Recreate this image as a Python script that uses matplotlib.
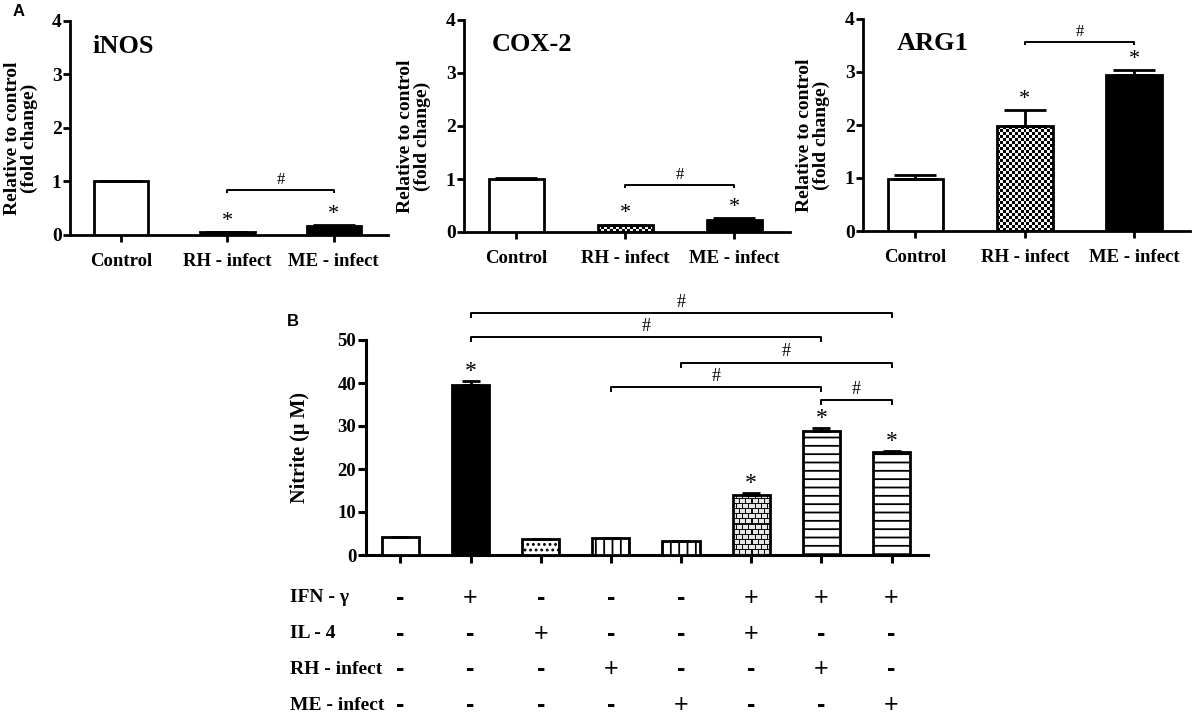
import numpy as np
import matplotlib
matplotlib.use("Agg")
import matplotlib.pyplot as plt
from matplotlib.transforms import blended_transform_factory

plt.rcParams['font.family'] = ['Liberation Serif', 'DejaVu Serif']
plt.rcParams['font.weight'] = 'bold'
plt.rcParams['hatch.linewidth'] = 1.3

# ---------------- data ----------------
cats_a = ["Control", "RH - infect", "ME - infect"]
genes = ["iNOS", "COX-2", "ARG1"]
inos_vals = [1.0, 0.06, 0.17]
inos_errs = [0.0, 0.0, 0.02]
cox2_vals = [1.0, 0.13, 0.23]
cox2_errs = [0.01, 0.01, 0.03]
arg1_vals = [0.99, 1.98, 2.94]
arg1_errs = [0.07, 0.31, 0.10]
a_yticks = [0, 1, 2, 3, 4]

nitrite_vals = [4.2, 39.5, 3.7, 4.0, 3.3, 14.0, 28.9, 24.0]
nitrite_errs = [0.0, 1.0, 0.0, 0.0, 0.0, 0.4, 0.6, 0.3]
b_yticks = [0, 10, 20, 30, 40, 50]
star_b = [False, True, False, False, False, True, True, True]
brackets_b = [(1, 7, 56.2), (1, 6, 50.7), (4, 7, 44.7), (3, 6, 39.0), (6, 7, 36.0)]

row_labels = ["IFN - γ", "IL - 4", "RH - infect", "ME - infect"]
ifn = ["-", "+", "-", "-", "-", "+", "+", "+"]
il4 = ["-", "-", "+", "-", "-", "+", "-", "-"]
rh = ["-", "-", "-", "+", "-", "-", "+", "-"]
me = ["-", "-", "-", "-", "+", "-", "-", "+"]

fig = plt.figure(figsize=(11.96, 7.2), dpi=100)
W, H = 1196, 720


def axes_px(l, r, t, b):
    return fig.add_axes([l / W, 1 - b / H, (r - l) / W, (b - t) / H])


def style_axes(ax, lw=2):
    for s in ['top', 'right']:
        ax.spines[s].set_visible(False)
    for s in ['left', 'bottom']:
        ax.spines[s].set_linewidth(lw)
    ax.tick_params(width=lw, length=5, direction='out')


def pattern_fill(ax, bar, kind, cell=3):
    # fill bar with a raster pattern clipped to the bar rectangle
    x0, y0 = bar.get_x(), bar.get_y()
    w, h = bar.get_width(), bar.get_height()
    p0 = ax.transData.transform((x0, y0))
    p1 = ax.transData.transform((x0 + w, y0 + h))
    wpx, hpx = abs(p1[0] - p0[0]), abs(p1[1] - p0[1])
    if kind == 'checker':
        nx = max(int(round(wpx / cell)), 1)
        ny = max(int(round(hpx / cell)), 1)
        yy, xx = np.mgrid[0:ny, 0:nx]
        img = ((xx + yy) % 2).astype(float) * 0.95
    else:  # brick
        nxp, nyp = int(round(wpx)), int(round(hpx))
        img = np.ones((nyp, nxp)) * 0.9
        yy, xx = np.mgrid[0:nyp, 0:nxp]
        img[(yy % 5) == 0] = 0.05
        row = yy // 5
        vert = ((xx + (row % 2) * 3) % 6) == 0
        img[vert] = 0.05
    im = ax.imshow(img, extent=(x0, x0 + w, y0, y0 + h), cmap='gray', vmin=0, vmax=1,
                   aspect='auto', interpolation='nearest', origin='lower', zorder=2)
    im.set_clip_path(bar)


def bracket(ax, x1, x2, y, drop, text, fs, lw=1.4):
    ax.plot([x1, x1, x2, x2], [y - drop, y, y, y - drop], color='black', lw=lw,
            clip_on=False, solid_capstyle='butt')
    ax.text((x1 + x2) / 2, y + drop * 0.5, text, ha='center', va='bottom', fontsize=fs,
            fontweight='normal')


# ---------------- Panel A ----------------
a_boxes = [(70, 388, 21, 235), (464, 790, 20, 232), (863, 1190, 19, 231)]
a_vals = [inos_vals, cox2_vals, arg1_vals]
a_errs = [inos_errs, cox2_errs, arg1_errs]
a_rh_style = ['black', 'checker', 'checker']
a_bracket_y = [0.84, 0.89, 3.57]
a_title_dx = [22, 28, 34]

for i, (box, vals, errs, g) in enumerate(zip(a_boxes, a_vals, a_errs, genes)):
    ax = axes_px(*box)
    x = np.arange(len(cats_a))
    colors = ['white', 'black' if a_rh_style[i] == 'black' else 'white', 'black']
    bars = ax.bar(x, vals, width=0.51, color=colors, edgecolor='black', linewidth=2, zorder=3)
    ax.set_xlim(-0.48, 2.51)
    ax.set_ylim(0, 4)
    ax.set_yticks(a_yticks)
    ax.set_xticks(x)
    ax.set_xticklabels(cats_a, fontsize=13.5, fontweight='bold')
    ax.tick_params(axis='x', pad=8)
    ax.tick_params(axis='y', pad=1, labelsize=14)
    style_axes(ax)
    if a_rh_style[i] == 'checker':
        bars[1].set_facecolor('none')
        pattern_fill(ax, bars[1], 'checker', cell=3)
    ax.errorbar(x, vals, yerr=[np.zeros(3), errs], fmt='none', ecolor='black',
                elinewidth=2, capsize=15, capthick=2, zorder=4)
    for j in (1, 2):
        ax.text(j, vals[j] + errs[j] + 0.2, '*', ha='center', va='center',
                fontsize=16, fontweight='normal')
    bracket(ax, 1, 2, a_bracket_y[i], 0.06, '#', 12)
    ax.text(a_title_dx[i] / (box[1] - box[0]), 0.852, g, transform=ax.transAxes,
            fontsize=19, ha='left', va='baseline', fontweight='bold')
    ax.set_ylabel("Relative to control\n(fold change)", fontsize=14, fontweight='bold',
                  linespacing=1.0)
    ax.yaxis.set_label_coords(-0.10, 0.45)
    for lab in ax.get_xticklabels() + ax.get_yticklabels():
        lab.set_fontweight('bold')

fig.text(13 / W, 1 - 12 / H, "A", fontsize=12, fontweight='bold', family='Liberation Sans',
         va='center', ha='left')

# ---------------- Panel B ----------------
axb = axes_px(366, 928, 340, 555)
xb = np.arange(len(nitrite_vals))
b_face = ['white', 'black', 'white', 'white', 'white', 'white', 'white', 'white']
b_hatch = [None, None, '...', '||', '||', None, '--', '--']
barsb = axb.bar(xb, nitrite_vals, width=0.53, color=b_face, edgecolor='black',
                linewidth=2, zorder=3)
for bar, h in zip(barsb, b_hatch):
    if h:
        bar.set_hatch(h)
axb.set_xlim(-0.49, 7.52)
axb.set_ylim(0, 50)
axb.set_yticks(b_yticks)
axb.set_xticks(xb)
axb.set_xticklabels([""] * len(xb))
axb.tick_params(axis='y', labelsize=13.5, pad=1)
style_axes(axb, lw=2.2)
axb.tick_params(length=6)
barsb[5].set_facecolor('none')
pattern_fill(axb, barsb[5], 'brick')
axb.errorbar(xb, nitrite_vals, yerr=[np.zeros(len(xb)), nitrite_errs], fmt='none',
             ecolor='black', elinewidth=2, capsize=6.5, capthick=2, zorder=4)
for j in xb:
    if star_b[j]:
        axb.text(j, nitrite_vals[j] + nitrite_errs[j] + 2.2, '*', ha='center', va='center',
                 fontsize=17, fontweight='normal')
for (x1, x2, y) in brackets_b:
    bracket(axb, x1, x2, y, 1.15, '#', 13)
axb.set_ylabel("Nitrite (μ M)", fontsize=14.5, fontweight='bold')
axb.yaxis.set_label_coords(-0.10, 0.5)
for lab in axb.get_yticklabels():
    lab.set_fontweight('bold')

fig.text(287 / W, 1 - 322 / H, "B", fontsize=12, fontweight='bold', family='Liberation Sans',
         va='center', ha='left')

# table under panel B
tr = blended_transform_factory(axb.transData, fig.transFigure)
row_y = [598, 634, 669, 705]
for lab, signs, ry in zip(row_labels, [ifn, il4, rh, me], row_y):
    fig.text(290 / W, 1 - ry / H, lab, fontsize=14, fontweight='bold', va='center', ha='left')
    for j, s in enumerate(signs):
        axb.text(j, 1 - ry / H, s, transform=tr, ha='center', va='center',
                 fontsize=18, fontweight='normal' if s == '+' else 'bold',
                 family='Liberation Sans')

fig.savefig("out.png", dpi=100)
